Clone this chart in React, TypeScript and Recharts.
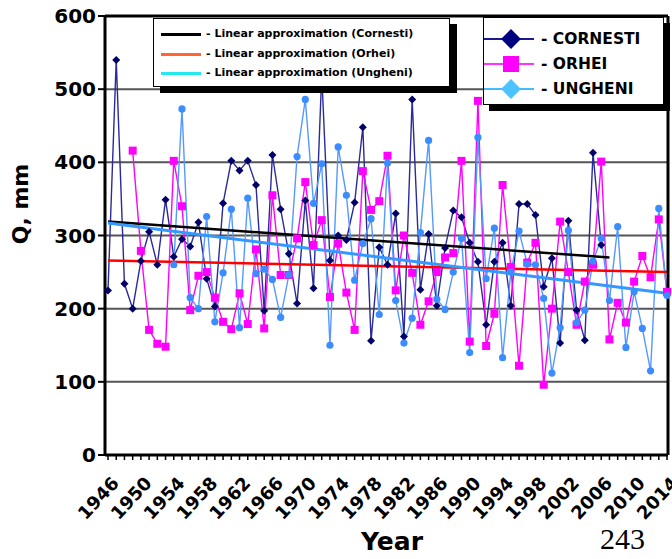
import React from 'react';
import { LineChart, Line, XAxis, YAxis, CartesianGrid, ReferenceLine } from 'recharts';

const years = [
  1946, 1947, 1948, 1949, 1950, 1951, 1952, 1953, 1954, 1955,
  1956, 1957, 1958, 1959, 1960, 1961, 1962, 1963, 1964, 1965,
  1966, 1967, 1968, 1969, 1970, 1971, 1972, 1973, 1974, 1975,
  1976, 1977, 1978, 1979, 1980, 1981, 1982, 1983, 1984, 1985,
  1986, 1987, 1988, 1989, 1990, 1991, 1992, 1993, 1994, 1995,
  1996, 1997, 1998, 1999, 2000, 2001, 2002, 2003, 2004, 2005,
  2006, 2007, 2008, 2009, 2010, 2011, 2012, 2013, 2014,
];

const cornesti = [
  225, 540, 234, 200, 265, 305, 260, 349, 271, 295,
  285, 318, 241, 203, 344, 402, 389, 402, 369, 197,
  410, 336, 275, 207, 348, 228, 520, 266, 300, 294,
  345, 448, 156, 284, 260, 330, 162, 486, 226, 302,
  204, 283, 334, 325, 290, 264, 178, 264, 290, 204,
  343, 343, 328, 230, 269, 153, 320, 198, 157, 413,
  287, null, null, null, null, null, null, null, null,
];

const orhei = [
  null, null, null, 416, 279, 171, 152, 148, 402, 340,
  198, 245, 250, 215, 182, 172, 221, 179, 281, 173,
  355, 246, 246, 296, 373, 287, 321, 216, 289, 222,
  171, 388, 335, 347, 409, 225, 300, 249, 178, 210,
  250, 270, 276, 402, 155, 484, 149, 193, 369, 257,
  122, 263, 290, 96, 200, 319, 250, 178, 237, 260,
  401, 158, 208, 181, 237, 272, 243, 322, 223,
];

const ungheni = [
  null, null, null, null, null, null, null, null, 260, 473,
  215, 200, 326, 182, 249, 336, 174, 351, 248, 254,
  240, 188, 246, 408, 486, 344, 398, 150, 421, 355,
  239, 289, 323, 192, 399, 211, 153, 187, 304, 430,
  213, 199, 250, 296, 140, 434, 241, 310, 133, 250,
  306, 261, 260, 214, 112, 174, 307, 181, 198, 265,
  296, 211, 312, 147, 223, 173, 115, 337, 218,
];

// linear approximations, start/end
const trendCornestiYears = [1946, 2007];
const trendCornesti = [319, 270];
const trendOrheiYears = [1946, 2014];
const trendOrhei = [266, 250];
const trendUngheniYears = [1946, 2014];
const trendUngheni = [317, 221];

const yTicks = [0, 100, 200, 300, 400, 500, 600];

const pick = (ys: number[], vs: number[], y: number) => {
  const i = ys.indexOf(y);
  return i >= 0 ? vs[i] : null;
};

const data = years.map((year, i) => ({
  year,
  c: cornesti[i],
  o: orhei[i],
  u: ungheni[i],
  tc: pick(trendCornestiYears, trendCornesti, year),
  to: pick(trendOrheiYears, trendOrhei, year),
  tu: pick(trendUngheniYears, trendUngheni, year),
}));

const FONT = '"DejaVu Sans", Arial, sans-serif';

const DiamondDot = (props: any) => {
  const { cx, cy, value, index } = props;
  if (value == null || cx == null || cy == null) return <g key={`cd-${index}`} />;
  const s = 4;
  return (
    <path key={`cd-${index}`} d={`M${cx},${cy - s} L${cx + s},${cy} L${cx},${cy + s} L${cx - s},${cy} Z`} fill="#000066" />
  );
};

const SquareDot = (props: any) => {
  const { cx, cy, value, index } = props;
  if (value == null || cx == null || cy == null) return <g key={`od-${index}`} />;
  return <rect key={`od-${index}`} x={cx - 4} y={cy - 4} width={8} height={8} fill="#ff00ff" />;
};

const CircleDot = (props: any) => {
  const { cx, cy, value, index } = props;
  if (value == null || cx == null || cy == null) return <g key={`ud-${index}`} />;
  return <circle key={`ud-${index}`} cx={cx} cy={cy} r={3.6} fill="#3b8cff" />;
};

const YearTick = ({ x, y, payload }: any) => {
  const yr = payload.value;
  if ((yr - 1946) % 4 !== 0) return <g />;
  return (
    <text
      transform={`translate(${x + 12},${y + 22}) rotate(-47)`}
      textAnchor="end"
      fontFamily={FONT}
      fontWeight="bold"
      fontSize={18}
      fill="#000"
    >
      {yr}
    </text>
  );
};

const legendText = { fontFamily: FONT, fontWeight: 'bold' as const, color: '#000', position: 'absolute' as const };

export default function App() {
  return (
    <div style={{ position: 'absolute', left: 0, top: 0, width: 672, height: 559, background: '#fff', overflow: 'hidden' }}>
      <LineChart width={672} height={559} data={data} margin={{ top: 16, right: 0, left: 0, bottom: 0 }}>
        <CartesianGrid horizontal vertical={false} stroke="#555" strokeWidth={2} />
        <XAxis
          dataKey="year"
          interval={0}
          height={104}
          padding={{ left: 3, right: 1 }}
          tick={<YearTick />}
          tickSize={5}
          tickLine={{ stroke: '#000', strokeWidth: 1.5 }}
          axisLine={{ stroke: '#000', strokeWidth: 3 }}
        />
        <YAxis
          domain={[0, 600]}
          ticks={yTicks}
          width={105}
          tickSize={7}
          tickMargin={2}
          tickLine={{ stroke: '#000', strokeWidth: 2 }}
          axisLine={{ stroke: '#000', strokeWidth: 3 }}
          tick={{ fontFamily: FONT, fontWeight: 'bold', fontSize: 20, fill: '#000' }}
        />
        <YAxis yAxisId="r" orientation="right" width={4} domain={[0, 600]} tick={false} tickLine={false} axisLine={{ stroke: '#000', strokeWidth: 3 }} />
        <ReferenceLine y={600} stroke="#000" strokeWidth={3} />
        <Line dataKey="c" stroke="#2a2a9a" strokeWidth={1.4} dot={<DiamondDot />} isAnimationActive={false} />
        <Line dataKey="o" stroke="#ff00ff" strokeWidth={1.4} dot={<SquareDot />} isAnimationActive={false} />
        <Line dataKey="u" stroke="#5599ff" strokeWidth={1.4} dot={<CircleDot />} isAnimationActive={false} />
        <Line dataKey="tc" stroke="#000" strokeWidth={2.5} dot={false} connectNulls isAnimationActive={false} />
        <Line dataKey="to" stroke="#ff0000" strokeWidth={2.5} dot={false} connectNulls isAnimationActive={false} />
        <Line dataKey="tu" stroke="#3399ff" strokeWidth={3} dot={false} connectNulls isAnimationActive={false} />
      </LineChart>

      {/* legend: linear approximations */}
      <div style={{ position: 'absolute', left: 153, top: 18, width: 297, height: 69, background: '#fff', border: '1px solid #000', boxSizing: 'border-box', boxShadow: '7px 6px 0 #000' }}>
        {[
          { c: '#000', t: '- Linear approximation (Cornesti)' },
          { c: '#ff6633', t: '- Linear approximation (Orhei)' },
          { c: '#22e8f0', t: '- Linear approximation (Ungheni)' },
        ].map((r, i) => (
          <React.Fragment key={r.t}>
            <div style={{ position: 'absolute', left: 7, top: 14 + i * 19.5, width: 40, height: 3, background: r.c }} />
            <div style={{ ...legendText, left: 52, top: 8 + i * 19.5, fontSize: 11, lineHeight: '14px', whiteSpace: 'nowrap' }}>{r.t}</div>
          </React.Fragment>
        ))}
      </div>

      {/* legend: stations */}
      <div style={{ position: 'absolute', left: 483, top: 17, width: 181, height: 88, background: '#fff', border: '1px solid #000', boxSizing: 'border-box', boxShadow: '6px 6px 0 #000' }}>
        {[
          { c: '#1a1a99', t: '- CORNESTI', m: 'diamond', mc: '#000080' },
          { c: '#ff33ff', t: '- ORHEI', m: 'square', mc: '#ff00ff' },
          { c: '#44bbff', t: '- UNGHENI', m: 'diamond', mc: '#4cc3ff' },
        ].map((r, i) => {
          const cy = 21 + i * 25;
          return (
            <React.Fragment key={r.t}>
              <div style={{ position: 'absolute', left: 0, top: cy - 1, width: 50, height: 2, background: r.c }} />
              {r.m === 'diamond' ? (
                <div style={{ position: 'absolute', left: 27 - 7, top: cy - 7, width: 14, height: 14, background: r.mc, transform: 'rotate(45deg)' }} />
              ) : (
                <div style={{ position: 'absolute', left: 27 - 8, top: cy - 8, width: 16, height: 16, background: r.mc }} />
              )}
              <div style={{ ...legendText, left: 57, top: cy - 10, fontSize: 15.5, lineHeight: '20px', whiteSpace: 'nowrap' }}>{r.t}</div>
            </React.Fragment>
          );
        })}
      </div>

      <div style={{ ...legendText, left: 8, top: 204, width: 0, height: 0 }}>
        <div style={{ position: 'absolute', transform: 'translate(-50%,-50%) rotate(-90deg)', left: 12, top: 0, fontSize: 22, whiteSpace: 'nowrap' }}>Q, mm</div>
      </div>
      <div style={{ ...legendText, left: 361, top: 527, fontSize: 25 }}>Year</div>
      <div style={{ position: 'absolute', left: 600, top: 522, fontFamily: '"Liberation Serif", "Times New Roman", serif', fontSize: 30, color: '#000' }}>243</div>
    </div>
  );
}
